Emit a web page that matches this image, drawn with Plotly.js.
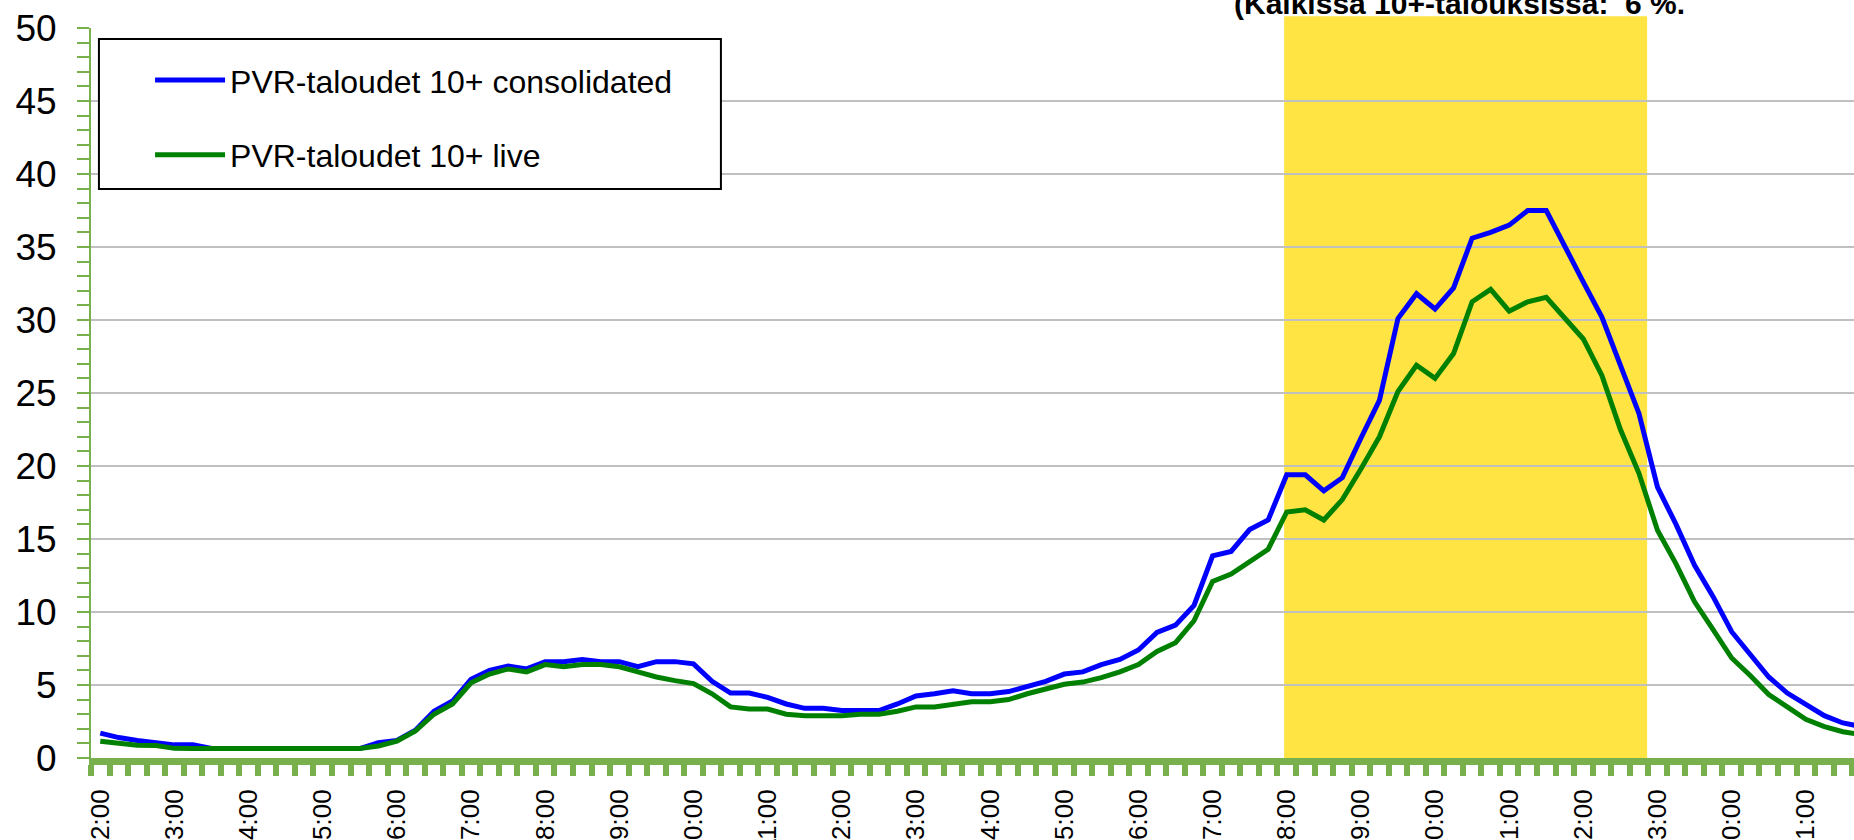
<!DOCTYPE html>
<html>
<head>
<meta charset="utf-8">
<script src="https://cdn.plot.ly/plotly-3.0.1.min.js"></script>
<style>
  html, body { margin: 0; padding: 0; background: #ffffff; }
  #chart { width: 1854px; height: 840px; }
</style>
</head>
<body>
<div id="chart"></div>
<script>
// ---- data ----
const categories = [
  "2:00","2:15","2:30","2:45","3:00","3:15","3:30","3:45",
  "4:00","4:15","4:30","4:45","5:00","5:15","5:30","5:45",
  "6:00","6:15","6:30","6:45","7:00","7:15","7:30","7:45",
  "8:00","8:15","8:30","8:45","9:00","9:15","9:30","9:45",
  "10:00","10:15","10:30","10:45","11:00","11:15","11:30","11:45",
  "12:00","12:15","12:30","12:45","13:00","13:15","13:30","13:45",
  "14:00","14:15","14:30","14:45","15:00","15:15","15:30","15:45",
  "16:00","16:15","16:30","16:45","17:00","17:15","17:30","17:45",
  "18:00","18:15","18:30","18:45","19:00","19:15","19:30","19:45",
  "20:00","20:15","20:30","20:45","21:00","21:15","21:30","21:45",
  "22:00","22:15","22:30","22:45","23:00","23:15","23:30","23:45",
  "0:00","0:15","0:30","0:45","1:00","1:15","1:30","1:45"
];

const consolidated = [
  1.7, 1.4, 1.2, 1.05, 0.9, 0.9, 0.65, 0.65,
  0.65, 0.65, 0.65, 0.65, 0.65, 0.65, 0.65, 1.05,
  1.2, 1.9, 3.2, 3.9, 5.4, 6.0, 6.3, 6.1,
  6.6, 6.6, 6.75, 6.6, 6.6, 6.25, 6.6, 6.6,
  6.45, 5.25, 4.45, 4.45, 4.15, 3.7, 3.4, 3.4,
  3.25, 3.25, 3.25, 3.7, 4.25, 4.4, 4.6, 4.4,
  4.4, 4.55, 4.9, 5.25, 5.75, 5.9, 6.4, 6.75,
  7.4, 8.6, 9.1, 10.45, 13.85, 14.15, 15.65, 16.3,
  19.4, 19.4, 18.3, 19.2, 21.9, 24.5, 30.1, 31.8,
  30.75, 32.2, 35.6, 36.0, 36.5, 37.5, 37.5, 35.0,
  32.6, 30.2, 27.0, 23.6, 18.55, 16.0, 13.2, 11.05,
  8.65, 7.05, 5.55, 4.45, 3.65, 2.9, 2.4, 2.15
];

const live = [
  1.15, 1.0, 0.87, 0.85, 0.66, 0.65, 0.65, 0.65,
  0.65, 0.65, 0.65, 0.65, 0.65, 0.65, 0.65, 0.82,
  1.16, 1.85, 3.0, 3.7, 5.15, 5.75, 6.1, 5.9,
  6.4, 6.25, 6.4, 6.4, 6.25, 5.9, 5.55, 5.3,
  5.1, 4.4, 3.5, 3.35, 3.35, 3.0, 2.9, 2.9,
  2.9, 3.0, 3.0, 3.2, 3.5, 3.5, 3.7, 3.85,
  3.85, 4.0, 4.4, 4.7, 5.05, 5.2, 5.5, 5.9,
  6.4, 7.3, 7.9, 9.4, 12.1, 12.6, 13.45, 14.3,
  16.85, 17.0, 16.3, 17.7, 19.8, 22.0, 25.1, 26.9,
  26.0, 27.7, 31.25, 32.1, 30.6, 31.25, 31.55, 30.1,
  28.7, 26.2, 22.5, 19.5, 15.6, 13.3, 10.7, 8.8,
  6.85, 5.65, 4.35, 3.5, 2.65, 2.15, 1.8, 1.6
];

const seriesNames = ["PVR-taloudet 10+ consolidated", "PVR-taloudet 10+ live"];
const titleLine = "(Kaikissa 10+-talouksissa:  6 %.";
const highlightStart = "18:00";
const highlightEnd = "22:45";

// ---- derived positions ----
const xIdx = categories.map((c, i) => i);
const hourIdx = xIdx.filter(i => categories[i].endsWith(":00"));
const hourText = hourIdx.map(i => categories[i]);
const boundaries = categories.map((c, i) => i - 0.5);
const hs = categories.indexOf(highlightStart);
const he = categories.indexOf(highlightEnd);

const FONT = "Liberation Sans, Arial, sans-serif";
const AXIS_GREEN = "#79B04E";

const traces = [
  {
    x: xIdx, y: consolidated, type: "scatter", mode: "lines",
    name: seriesNames[0], legendgroup: "a",
    line: { color: "#0000FF", width: 5 },
    hoverinfo: "skip"
  },
  {
    x: xIdx, y: live, type: "scatter", mode: "lines",
    name: seriesNames[1], legendgroup: "b",
    line: { color: "#008000", width: 5 },
    hoverinfo: "skip"
  }
];

const layout = {
  width: 1854, height: 840,
  margin: { l: 91, r: 0, t: 28, b: 82, pad: 0 },
  paper_bgcolor: "#ffffff",
  plot_bgcolor: "#ffffff",
  font: { family: FONT, color: "#000000" },
  showlegend: true,
  legend: {
    x: 0.0335, y: 0.966, xanchor: "left", yanchor: "top",
    bgcolor: "rgba(0,0,0,0)", borderwidth: 0,
    font: { family: FONT, size: 32, color: "#000000" },
    itemwidth: 70, traceorder: "grouped", tracegroupgap: 30
  },
  xaxis: {
    type: "linear",
    range: [-0.5, 94.6],
    tickmode: "array", tickvals: hourIdx, ticktext: hourText,
    tickangle: -90,
    ticks: "", ticklabelstandoff: 14,
    tickfont: { family: FONT, size: 26, color: "#000000" },
    showline: true, linecolor: AXIS_GREEN, linewidth: 7,
    showgrid: false, zeroline: false,
    minor: {
      tickmode: "array", tickvals: boundaries,
      ticks: "outside", ticklen: 11, tickwidth: 6, tickcolor: AXIS_GREEN,
      showgrid: false
    },
    fixedrange: true
  },
  yaxis: {
    range: [0, 50], tick0: 0, dtick: 5,
    ticks: "outside", ticklen: 12, tickwidth: 2, tickcolor: AXIS_GREEN,
    ticklabelstandoff: 13,
    tickfont: { family: FONT, size: 37, color: "#000000" },
    showline: true, linecolor: AXIS_GREEN, linewidth: 2,
    showgrid: true, gridcolor: "#C0C0C0", gridwidth: 2,
    zeroline: false,
    minor: {
      dtick: 1, tick0: 0,
      ticks: "outside", ticklen: 12, tickwidth: 2, tickcolor: AXIS_GREEN,
      showgrid: false
    },
    fixedrange: true
  },
  shapes: [
    {
      type: "rect", xref: "x", yref: "paper",
      x0: hs - 0.14, x1: he + 0.44, y0: 0, y1: 1.016,
      fillcolor: "#FFE444", line: { width: 0 }, layer: "below"
    },
    {
      type: "rect", xref: "paper", yref: "paper",
      x0: 0.0045, x1: 0.3573, y0: 0.7795, y1: 0.985,
      fillcolor: "#ffffff", line: { color: "#000000", width: 2 }, layer: "above"
    }
  ],
  annotations: [
    {
      text: "<b>" + titleLine + "</b>",
      xref: "paper", yref: "paper", x: 0.776, y: 1.0088,
      xanchor: "center", yanchor: "bottom",
      showarrow: false,
      font: { family: FONT, size: 30, color: "#000000" }
    }
  ]
};

Plotly.newPlot("chart", traces, layout, { displayModeBar: false, staticPlot: true });
</script>
</body>
</html>
